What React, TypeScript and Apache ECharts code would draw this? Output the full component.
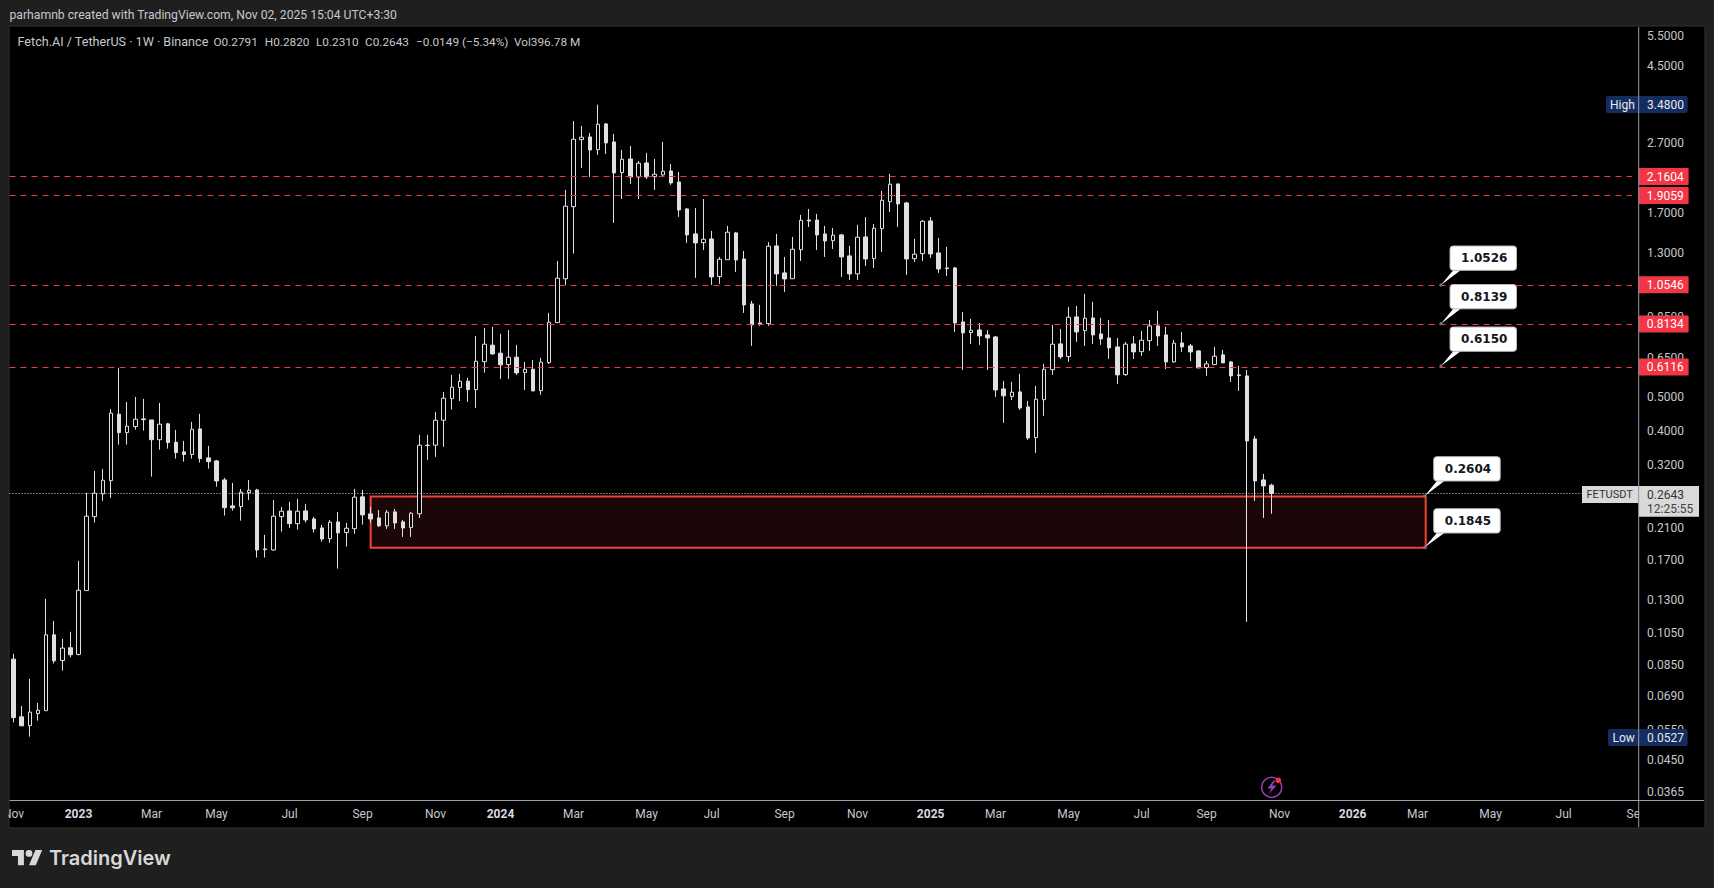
// App.tsx
import React, { useEffect, useRef } from "react";
import * as echarts from "echarts";

// weekly bars, Nov 7 2022 -> Oct 27 2025
const opens = [
  0.0881, 0.0601, 0.0567, 0.0614, 0.0626, 0.1035, 0.0873, 0.095, 0.0909, 0.1388,
  0.2267, 0.2636, 0.2878, 0.4471, 0.3957, 0.4118, 0.4333, 0.4303, 0.3775, 0.4193,
  0.3713, 0.3482, 0.3421, 0.4055, 0.3346, 0.328, 0.2891, 0.2434, 0.2423, 0.2658,
  0.2705, 0.183, 0.1817, 0.2267, 0.2354, 0.2164, 0.2354, 0.2232, 0.2103, 0.1959,
  0.2189, 0.2039, 0.2093, 0.2584, 0.2308, 0.2247, 0.2132, 0.2339, 0.2189, 0.2108,
  0.231, 0.364, 0.364, 0.4295, 0.4957, 0.5333, 0.5563, 0.5261, 0.6335, 0.7064,
  0.6699, 0.6212, 0.6524, 0.589, 0.6023, 0.5226, 0.6294, 0.8205, 1.0977, 1.7706,
  2.7598, 2.8107, 2.5827, 3.0639, 2.7188, 2.2182, 2.4285, 2.1559, 2.3656, 2.1603,
  2.1849, 2.2428, 2.0854, 1.7433, 1.4775, 1.3945, 1.4288, 1.1132, 1.2455, 1.4872,
  1.2514, 0.9289, 0.8189, 0.8152, 1.3645, 1.1408, 1.0977, 1.3308, 1.6204, 1.6204,
  1.4775, 1.4127, 1.4678, 1.277, 1.1333, 1.4483, 1.254, 1.5299, 1.8299, 2.0583,
  1.8145, 1.254, 1.2966, 1.61, 1.3025, 1.1791, 1.1791, 0.8243, 0.7679, 0.7814,
  0.7564, 0.7463, 0.5286, 0.5028, 0.5183, 0.4692, 0.3828, 0.4923, 0.6006, 0.7125,
  0.655, 0.8522, 0.7779, 0.8464, 0.7614, 0.7413, 0.6985, 0.5813, 0.7125, 0.6769,
  0.728, 0.8028, 0.7564, 0.6323, 0.7172, 0.7032, 0.68, 0.6089, 0.6212, 0.6625,
  0.6323, 0.5802, 0.5763, 0.3794, 0.2891, 0.2791,
];
const closes = [
  0.0598, 0.0566, 0.062, 0.0628, 0.1035, 0.0871, 0.0948, 0.0907, 0.1391, 0.2273,
  0.2648, 0.2885, 0.45, 0.3957, 0.4129, 0.4324, 0.4312, 0.3775, 0.4184, 0.3703,
  0.3466, 0.3421, 0.4046, 0.333, 0.3265, 0.2872, 0.2406, 0.2402, 0.2665, 0.27,
  0.1817, 0.1821, 0.2273, 0.2349, 0.2164, 0.2349, 0.2217, 0.2089, 0.1955, 0.2184,
  0.2035, 0.2099, 0.2579, 0.2293, 0.2232, 0.2132, 0.2334, 0.2174, 0.2103, 0.2318,
  0.364, 0.3631, 0.4295, 0.497, 0.5347, 0.5563, 0.5261, 0.6352, 0.7111, 0.6668,
  0.62, 0.6524, 0.5878, 0.6023, 0.5216, 0.6311, 0.8227, 1.1013, 1.7753, 2.7673,
  2.8051, 2.5774, 3.0579, 2.7011, 2.2139, 2.4236, 2.1559, 2.361, 2.1559, 2.195,
  2.2385, 2.0718, 1.7314, 1.4678, 1.3918, 1.4259, 1.111, 1.2489, 1.494, 1.2429,
  0.9228, 0.8082, 0.8136, 1.3618, 1.1333, 1.0961, 1.3345, 1.6173, 1.61, 1.4678,
  1.41, 1.4649, 1.2685, 1.1333, 1.4454, 1.2514, 1.5341, 1.8465, 2.0542, 1.8026,
  1.2514, 1.2915, 1.6065, 1.294, 1.1712, 1.1736, 0.8189, 0.7664, 0.7799, 0.7513,
  0.7413, 0.525, 0.5048, 0.5172, 0.4661, 0.382, 0.4936, 0.6023, 0.7111, 0.6537,
  0.8504, 0.7714, 0.8447, 0.7564, 0.7363, 0.6938, 0.5802, 0.7111, 0.6756, 0.7299,
  0.8028, 0.7513, 0.6323, 0.7158, 0.6985, 0.6756, 0.6076, 0.624, 0.6567, 0.6282,
  0.5763, 0.5775, 0.3744, 0.2872, 0.2779, 0.2643,
];
const lows = [
  0.0579, 0.0566, 0.0527, 0.0586, 0.0626, 0.0856, 0.0816, 0.0891, 0.0903, 0.1388,
  0.2179, 0.2516, 0.2567, 0.3655, 0.3655, 0.4035, 0.4009, 0.2956, 0.3534, 0.3558,
  0.333, 0.3265, 0.333, 0.3244, 0.3117, 0.2766, 0.2282, 0.2358, 0.2207, 0.2532,
  0.1728, 0.1728, 0.1809, 0.2052, 0.2103, 0.2079, 0.2179, 0.2039, 0.1921, 0.1908,
  0.1606, 0.1858, 0.2023, 0.215, 0.2179, 0.2118, 0.2089, 0.2089, 0.1982, 0.1982,
  0.2247, 0.3301, 0.3369, 0.3599, 0.4607, 0.488, 0.485, 0.4661, 0.589, 0.6625,
  0.5648, 0.5648, 0.5802, 0.525, 0.5216, 0.5082, 0.6241, 0.8205, 1.0536, 1.2966,
  2.2882, 2.1559, 2.4947, 2.5112, 1.5892, 1.862, 2.0583, 1.862, 2.127, 1.977,
  2.1704, 2.0448, 1.6537, 1.3918, 1.1035, 1.3281, 1.0536, 1.0606, 1.2455, 1.1483,
  0.875, 0.7032, 0.8028, 0.8028, 1.0467, 1.0056, 1.0977, 1.2349, 1.5476, 1.3281,
  1.2685, 1.3372, 1.111, 1.0886, 1.0886, 1.1951, 1.1791, 1.3111, 1.7092, 1.5476,
  1.1259, 1.227, 1.2349, 1.26, 1.1408, 1.1184, 0.7714, 0.5994, 0.7125, 0.7079,
  0.5994, 0.5014, 0.422, 0.4913, 0.4598, 0.3768, 0.3459, 0.4421, 0.5802, 0.6449,
  0.6323, 0.7219, 0.7032, 0.7125, 0.7079, 0.6449, 0.5465, 0.5763, 0.6449, 0.6581,
  0.68, 0.7032, 0.6035, 0.6282, 0.6756, 0.6364, 0.6076, 0.5763, 0.6212, 0.6282,
  0.5537, 0.5216, 0.1127, 0.2516, 0.2247, 0.231,
];
const highs = [
  0.0913, 0.0646, 0.0773, 0.0659, 0.1314, 0.1135, 0.1008, 0.1056, 0.169, 0.2653,
  0.3069, 0.311, 0.463, 0.6064, 0.485, 0.5014, 0.4947, 0.4303, 0.4818, 0.422,
  0.4027, 0.3744, 0.4248, 0.448, 0.3623, 0.3301, 0.2931, 0.2835, 0.2724, 0.2891,
  0.2724, 0.2008, 0.2532, 0.2418, 0.2499, 0.2549, 0.2467, 0.2263, 0.2146, 0.2217,
  0.2339, 0.2174, 0.2724, 0.2705, 0.2418, 0.2369, 0.2369, 0.2385, 0.2217, 0.2339,
  0.3898, 0.3898, 0.4539, 0.5183, 0.5802, 0.584, 0.5686, 0.7513, 0.7921, 0.7973,
  0.7614, 0.7814, 0.7079, 0.6323, 0.6405, 0.6493, 0.875, 1.2349, 1.977, 3.1244,
  3.0236, 2.8863, 3.48, 3.0841, 2.8674, 2.5774, 2.6481, 2.3965, 2.5278, 2.4285,
  2.7188, 2.3502, 2.2283, 1.7551, 1.7551, 1.862, 1.5067, 1.2685, 1.558, 1.4969,
  1.3196, 0.9473, 0.9228, 1.4009, 1.4775, 1.2685, 1.4483, 1.6759, 1.7433, 1.687,
  1.558, 1.5372, 1.4775, 1.3645, 1.5684, 1.6516, 1.5788, 1.9643, 2.1994, 2.0583,
  1.8264, 1.4288, 1.6204, 1.6516, 1.4386, 1.3554, 1.1871, 0.8808, 0.8407, 0.8189,
  0.7814, 0.7513, 0.5573, 0.5537, 0.584, 0.4882, 0.5394, 0.6241, 0.8082, 0.7868,
  0.9106, 0.9167, 0.9926, 0.9412, 0.8464, 0.835, 0.7413, 0.7219, 0.7513, 0.7764,
  0.835, 0.8865, 0.7973, 0.7313, 0.7714, 0.7125, 0.6844, 0.6364, 0.6985, 0.6844,
  0.6364, 0.6159, 0.5994, 0.3872, 0.3009, 0.282,
];

const firstWeek = Date.UTC(2022, 10, 7);
const weekCount = 201; // bars plus the empty weeks up to the right edge

const xTickWeeks = [
  "2022-11-07", "2023-01-02", "2023-03-06", "2023-05-01", "2023-07-03", "2023-09-04",
  "2023-11-06", "2024-01-01", "2024-03-04", "2024-05-06", "2024-07-01", "2024-09-02",
  "2024-11-04", "2025-01-06", "2025-03-03", "2025-05-05", "2025-07-07", "2025-09-01",
  "2025-11-03", "2026-01-05", "2026-03-02", "2026-05-04", "2026-07-06", "2026-09-07",
];
const xTickLabels = [
  "Nov", "2023", "Mar", "May", "Jul", "Sep",
  "Nov", "2024", "Mar", "May", "Jul", "Sep",
  "Nov", "2025", "Mar", "May", "Jul", "Sep",
  "Nov", "2026", "Mar", "May", "Jul", "Sep",
];
const priceTicks = [
  5.5, 4.5, 2.7, 1.7, 1.3, 0.85, 0.65, 0.5, 0.4, 0.32, 0.21, 0.17, 0.13, 0.105,
  0.085, 0.069, 0.055, 0.045, 0.0365,
];
const redLevels = [2.1604, 1.9059, 1.0546, 0.8134, 0.6116];
const lastPrice = 0.2643;
const zoneTop = 0.259;
const zoneBottom = 0.1845;
const zoneFromWeek = "2023-09-11";
const zoneToWeek = "2026-03-09";

const legendParts = [
  { text: "Fetch.AI / TetherUS · 1W · Binance", x: 17.5, size: 12.6 },
  { text: "O0.2791", x: 213.5, size: 11.8 },
  { text: "H0.2820", x: 264.8, size: 11.8 },
  { text: "L0.2310", x: 316, size: 11.8 },
  { text: "C0.2643", x: 365, size: 11.8 },
  { text: "−0.0149 (−5.34%)", x: 416, size: 11.8 },
  { text: "Vol396.78 M", x: 514, size: 11.8 },
];

const callouts = [
  { text: "1.0526", left: 1450, top: 246, tipX: 1441, tipY: 285 },
  { text: "0.8139", left: 1450, top: 284.5, tipX: 1441, tipY: 323.7 },
  { text: "0.6150", left: 1450, top: 327, tipX: 1441, tipY: 366 },
  { text: "0.2604", left: 1433.7, top: 456.7, tipX: 1424.7, tipY: 496 },
  { text: "0.1845", left: 1433.7, top: 508.7, tipX: 1424.7, tipY: 547.3 },
];

const BG = "#1f1f1f";
const CANDLE = "#e0e0e0";
const RED = "#f23645";
const NAVY = "#142c5e";
const AXIS_LINE = "#9a9da6";
const TEXT = "#c6c8ce";
const FONT = "Roboto";

const categories = Array.from({ length: weekCount }, (_, i) =>
  new Date(firstWeek + i * 7 * 86400000).toISOString().slice(0, 10)
);

const logoPath =
  "M14 22H7V11H0V4h14v18zM28 22h-8l7.5-18h8L28 22zM24 8a4 4 0 1 1-8 0 4 4 0 0 1 8 0z";
const boltPath = "M7 0L1 8h4L2 14l8-9H5.5L9 0z";
echarts.graphic.registerShape("tvLogo", echarts.graphic.extendPath(logoPath, {}) as any);
echarts.graphic.registerShape("bolt", echarts.graphic.extendPath(boltPath, {}) as any);

function label(text: string, x: number, y: number, fill: string, size = 12, extra: any = {}) {
  return {
    type: "text",
    z: 110,
    style: {
      text,
      x,
      y,
      fill,
      verticalAlign: "middle",
      font: `${extra.weight || "normal"} ${size}px ${extra.family || FONT}`,
      align: extra.align || "left",
    },
  };
}

function box(x: number, y: number, width: number, height: number, fill: string, z = 105, r = 0) {
  return { type: "rect", z, shape: { x, y, width, height, r }, style: { fill } };
}

function buildGraphic() {
  const out: any[] = [
    // pane behind everything
    { type: "rect", z: -1, shape: { x: 9, y: 26, width: 1696, height: 802 }, style: { fill: "#000", stroke: "#333", lineWidth: 1 } },
    // covers that clip the first and last time labels, and the level lines before the scale
    box(0, 0, 8.5, 888, BG),
    box(1639.2, 801, 64.5, 26, "#000"),
    box(1632, 27, 6.4, 770, "#000", 104),
    label("parhamnb created with TradingView.com, Nov 02, 2025 15:04 UTC+3:30", 9.5, 15, TEXT, 12.2),
    { type: "line", z: 108, shape: { x1: 1638.7, y1: 27, x2: 1638.7, y2: 827 }, style: { stroke: AXIS_LINE, lineWidth: 1 } },
    { type: "line", z: 108, shape: { x1: 9.5, y1: 800.5, x2: 1704, y2: 800.5 }, style: { stroke: AXIS_LINE, lineWidth: 1 } },
    // high / low / last price tags
    box(1606, 96, 81.7, 17, NAVY, 105, 2),
    label("High", 1610, 104.5, "#e8e9ec", 12),
    label("3.4800", 1647, 104.5, "#e8e9ec", 12),
    box(1608, 729, 79.7, 17, NAVY, 105, 2),
    label("Low", 1612.5, 737.5, "#e8e9ec", 12),
    label("0.0527", 1647, 737.5, "#e8e9ec", 12),
    box(1582, 486, 56.7, 17, "#d9d9d9"),
    label("FETUSDT", 1586.5, 494.7, "#333", 11),
    box(1638.7, 486, 60.3, 30.7, "#d9d9d9"),
    label("0.2643", 1647, 494.7, "#333", 12),
    label("12:25:55", 1647, 508.7, "#444", 12),
    // tradingview logo
    { type: "tvLogo", z: 110, x: 12, y: 846.6, scaleX: 0.85, scaleY: 0.85, style: { fill: "#d8d8d8" } },
    label("TradingView", 49, 858, "#d8d8d8", 20, { weight: "600", family: "Inter" }),
    // alert icon
    { type: "circle", z: 110, shape: { cx: 1271.7, cy: 787.3, r: 10 }, style: { fill: "none", stroke: "#9c3fb5", lineWidth: 1.5 } },
    { type: "bolt", z: 110, x: 1266.5, y: 780.5, scaleX: 1, scaleY: 1, style: { fill: "#9c3fb5" } },
    { type: "circle", z: 111, shape: { cx: 1278.3, cy: 780.3, r: 2.8 }, style: { fill: "#f7304a" } },
  ];
  legendParts.forEach((p) => out.push(label(p.text, p.x, 41.7, TEXT, p.size)));
  callouts.forEach((c) => {
    const w = 66.5;
    const h = 24.3;
    out.push({
      type: "polygon",
      z: 109,
      shape: { points: [[c.tipX, c.tipY], [c.left + 4, c.top + h - 1], [c.left + 12, c.top + h - 1]] },
      style: { fill: "#fff" },
    });
    out.push({ type: "circle", z: 110, shape: { cx: c.tipX, cy: c.tipY, r: 1.6 }, style: { fill: "#777" } });
    out.push({
      type: "rect",
      z: 109,
      shape: { x: c.left, y: c.top, width: w, height: h, r: 3 },
      style: { fill: "#fff", stroke: "#b8b8b8", lineWidth: 1 },
    });
    out.push(label(c.text, c.left + w / 2 + 1, c.top + h / 2, "#131722", 12, { weight: "bold", family: "DejaVu Sans", align: "center" }));
  });
  return out;
}

const App: React.FC = () => {
  const chartRef = useRef<HTMLDivElement>(null);

  useEffect(() => {
    if (!chartRef.current) return;
    document.body.style.margin = "0";
    document.body.style.background = BG;
    const chart = echarts.init(chartRef.current, undefined, { renderer: "svg" });

    chart.setOption({
      animation: false,
      backgroundColor: BG,
      graphic: { elements: buildGraphic() },
      grid: { left: 8.64, top: 27, width: 1632.1, height: 773, containLabel: false },
      xAxis: {
        type: "category",
        data: categories,
        boundaryGap: true,
        axisLine: { show: false },
        axisTick: { show: false },
        splitLine: { show: false },
        axisLabel: {
          color: TEXT,
          fontFamily: FONT,
          fontSize: 12,
          margin: 8,
          hideOverlap: false,
          showMinLabel: true,
          showMaxLabel: true,
          interval: (_: number, value: string) => xTickWeeks.includes(value),
          formatter: (value: string) => {
            const text = xTickLabels[xTickWeeks.indexOf(value)];
            return text.length === 4 ? `{year|${text}}` : text;
          },
          rich: { year: { color: "#d8dae0", fontWeight: "bold", fontFamily: FONT, fontSize: 12 } },
        },
      },
      yAxis: {
        type: "log",
        position: "right",
        min: 0.03462,
        max: 5.826,
        axisLine: { show: false },
        axisTick: { show: false },
        splitLine: { show: false },
        axisLabel: {
          customValues: priceTicks,
          color: TEXT,
          fontFamily: FONT,
          fontSize: 12,
          margin: 6.3,
          formatter: (v: number) => Number(v).toFixed(4),
        },
      },
      series: [
        {
          type: "candlestick",
          barWidth: 4,
          data: opens.map((o, i) => [o, closes[i], lows[i], highs[i]]),
          itemStyle: {
            color: "#000",
            color0: CANDLE,
            borderColor: CANDLE,
            borderColor0: CANDLE,
            borderWidth: 1,
          },
          markArea: {
            silent: true,
            itemStyle: { color: "#1b0707", borderColor: "#f44336", borderWidth: 2, opacity: 1 },
            data: [[{ xAxis: zoneFromWeek, yAxis: zoneTop }, { xAxis: zoneToWeek, yAxis: zoneBottom }]],
          },
          markLine: {
            silent: true,
            symbol: "none",
            precision: 4,
            data: [
              ...redLevels.map((v) => ({
                yAxis: v,
                lineStyle: { color: RED, type: [6, 5], width: 1 },
                label: {
                  show: true,
                  position: "end",
                  distance: 0,
                  offset: [-2, 0],
                  formatter: () => v.toFixed(4),
                  color: "#fff",
                  fontFamily: FONT,
                  fontSize: 12,
                  backgroundColor: RED,
                  padding: [3, 5, 2, 8],
                  borderRadius: 1,
                },
              })),
              {
                yAxis: lastPrice,
                lineStyle: { color: "#dcdcdc", type: [1, 2], width: 1 },
                label: { show: false },
              },
            ],
          },
        },
      ],
    });

    return () => {
      chart.dispose();
    };
  }, []);

  return <div ref={chartRef} style={{ position: "fixed", left: 0, top: 0, width: 1714, height: 888 }} />;
};

export default App;
